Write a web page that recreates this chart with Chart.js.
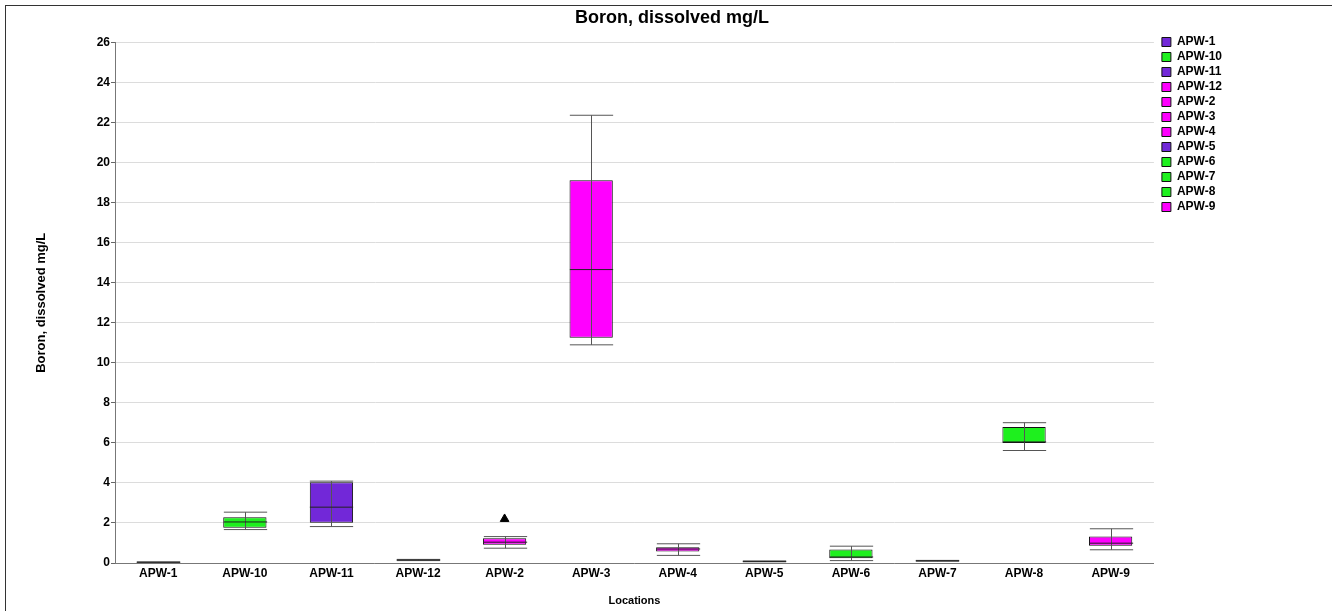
<!DOCTYPE html>
<html>
<head>
<meta charset="utf-8">
<script src="https://cdn.jsdelivr.net/npm/chart.js@4.4.0/dist/chart.umd.min.js"></script>
<style>
  html, body { margin: 0; padding: 0; background: #fff; }
  #wrap { position: relative; width: 1332px; height: 611px; }
  #frame { position: absolute; left: 5px; top: 5px; width: 1330px; height: 610px; border: 1px solid #333; box-sizing: border-box; pointer-events: none; }
  canvas { position: absolute; left: 0; top: 0; }
</style>
</head>
<body>
<div id="wrap">
  <canvas id="chart" width="1332" height="611"></canvas>
  <div id="frame"></div>
</div>
<script>
var locations = ['APW-1', 'APW-10', 'APW-11', 'APW-12', 'APW-2', 'APW-3', 'APW-4', 'APW-5', 'APW-6', 'APW-7', 'APW-8', 'APW-9'];
var mins    = [0.03, 1.67, 1.82, 0.12, 0.74, 10.9,  0.38, 0.06, 0.12, 0.09, 5.62, 0.66];
var q1s     = [0.03, 1.76, 2.01, 0.13, 0.91, 11.26, 0.58, 0.07, 0.24, 0.10, 5.99, 0.86];
var medians = [0.04, 2.05, 2.79, 0.15, 1.04, 14.66, 0.70, 0.08, 0.30, 0.11, 6.05, 0.99];
var q3s     = [0.05, 2.29, 4.04, 0.17, 1.24, 19.12, 0.79, 0.09, 0.68, 0.12, 6.79, 1.32];
var maxs    = [0.05, 2.54, 4.09, 0.18, 1.32, 22.37, 0.96, 0.10, 0.84, 0.13, 7.01, 1.71];
var outliers = [null, null, null, null, 2.2, null, null, null, null, null, null, null];
var yTicks = [0, 2, 4, 6, 8, 10, 12, 14, 16, 18, 20, 22, 24, 26];

var PURPLE = '#7228d8', GREEN = '#1ef01e', MAGENTA = '#ff00ff';
var boxColors = [PURPLE, GREEN, PURPLE, MAGENTA, MAGENTA, MAGENTA, MAGENTA, PURPLE, GREEN, GREEN, GREEN, MAGENTA];

var font = 'Liberation Sans, Arial, sans-serif';

// one floating bar dataset per location so the legend lists each one
var datasets = locations.map(function (loc, i) {
    return {
        label: loc,
        data: locations.map(function (_, j) { return j === i ? [q1s[i], q3s[i]] : null; }),
        backgroundColor: boxColors[i],
        borderColor: '#111',
        borderWidth: 1,
        borderSkipped: false,
        grouped: false,
        categoryPercentage: 1,
        barPercentage: 0.5
    };
});

datasets.push({
    type: 'line',
    label: 'outliers',
    data: outliers,
    showLine: false,
    pointStyle: 'triangle',
    pointRadius: 5,
    backgroundColor: '#000',
    borderColor: '#000',
    borderWidth: 1
});

// whiskers, caps and medians
var whiskers = {
    id: 'whiskers',
    afterLayout: function (chart) {
        // centre the title on the whole picture, like the original
        chart.titleBlock.left = 12;
        chart.titleBlock.right = chart.width;
        // small gap between plot and legend
        chart.legend.left += 5;
        chart.legend.right += 5;
    },
    afterDatasetsDraw: function (chart) {
        var ctx = chart.ctx, y = chart.scales.y;
        ctx.save();
        locations.forEach(function (loc, i) {
            var bar = chart.getDatasetMeta(i).data[i];
            if (!bar) return;
            var p = bar.getProps(['x', 'width'], true);
            var x = Math.round(p.x) + 0.5, half = p.width / 2;
            var yMin = y.getPixelForValue(mins[i]), yMax = y.getPixelForValue(maxs[i]);
            ctx.lineWidth = 1;
            ctx.strokeStyle = '#555';
            ctx.beginPath();
            ctx.moveTo(x, yMax); ctx.lineTo(x, yMin);
            ctx.moveTo(x - half, yMax); ctx.lineTo(x + half, yMax);
            ctx.moveTo(x - half, yMin); ctx.lineTo(x + half, yMin);
            ctx.stroke();
            ctx.strokeStyle = '#222';
            var yMed = y.getPixelForValue(medians[i]);
            ctx.beginPath();
            ctx.moveTo(x - half, yMed); ctx.lineTo(x + half, yMed);
            ctx.stroke();
        });
        ctx.restore();
    }
};

new Chart(document.getElementById('chart'), {
    type: 'bar',
    data: { labels: locations, datasets: datasets },
    plugins: [whiskers],
    options: {
        responsive: false,
        animation: false,
        layout: { padding: { left: 30, right: 105, top: 0, bottom: 3 } },
        plugins: {
            tooltip: { enabled: false },
            title: {
                display: true,
                text: 'Boron, dissolved mg/L',
                color: '#000',
                font: { family: font, size: 18, weight: 'bold' },
                padding: { top: 7, bottom: 14 }
            },
            legend: {
                position: 'right',
                align: 'start',
                title: { display: true, text: '', font: { size: 10 }, padding: { top: 21, bottom: 0 } },
                labels: {
                    color: '#000',
                    font: { family: font, size: 12, weight: 'bold' },
                    boxWidth: 9,
                    boxHeight: 9,
                    padding: 3,
                    filter: function (item) { return item.text !== 'outliers'; }
                }
            }
        },
        scales: {
            x: {
                grid: { display: false, drawTicks: false },
                border: { display: true, color: '#777' },
                ticks: { color: '#000', font: { family: font, size: 12, weight: 'bold' }, padding: 3, maxRotation: 0 },
                title: { display: true, text: 'Locations', color: '#000', font: { family: font, size: 11, weight: 'bold' }, padding: 0 },
                afterFit: function (s) { s.height = 45; }
            },
            y: {
                min: 0,
                max: 26,
                afterBuildTicks: function (s) { s.ticks = yTicks.map(function (v) { return { value: v }; }); },
                grid: { color: '#dcdcdc', tickColor: '#666', tickLength: 4 },
                border: { display: true, color: '#777' },
                ticks: { color: '#000', font: { family: font, size: 12, weight: 'bold' }, padding: 1 },
                title: { display: true, text: 'Boron, dissolved mg/L', color: '#000', font: { family: font, size: 13, weight: 'bold' }, padding: 4 },
                afterFit: function (s) { s.width = 85; }
            }
        }
    }
});
</script>
</body>
</html>
